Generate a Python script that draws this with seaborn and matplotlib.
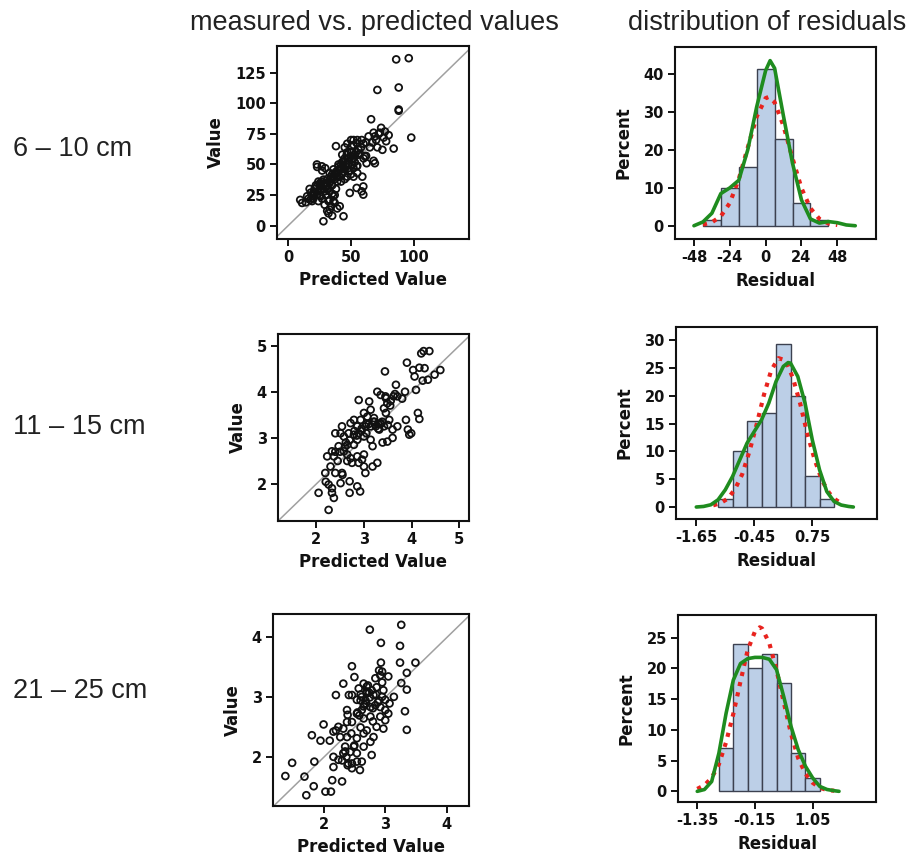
"""
Measured vs. predicted values and residual distributions for three depths.
"""

import matplotlib
matplotlib.use("Agg")
import matplotlib.pyplot as plt
import seaborn as sns

# ---- row labels / titles
depths = ["6 \u2013 10 cm", "11 \u2013 15 cm", "21 \u2013 25 cm"]
col_titles = ["measured vs. predicted values", "distribution of residuals"]

# ---- scatter data (predicted, measured)
pred1 = [86, 96, 88, 71, 88, 88, 66, 98, 84,
         74, 77, 80, 72, 69, 64, 70, 62, 75, 67, 76, 78, 71, 65, 73, 68,
         68, 69, 60, 62,
         55, 50, 47, 52, 45, 38, 46.6, 52, 54.5, 58.5, 50.5, 57, 61, 62.4, 54.5,
         50.5, 46.6, 44, 41, 38.6, 42.6, 48, 52,
         49, 54.5, 59.8, 58.5, 59.8, 59,
         44, 28, 33, 32, 41, 37, 33, 36, 29,
         9.5, 11, 15, 17.5, 20, 22.8, 25.4, 22.8, 26.7, 29.4, 25.4, 30.7, 33, 36,
         33, 28, 30.7,
         30, 32, 28, 26, 24, 20, 18, 35, 37, 40, 42, 44, 46, 48, 43, 40, 36, 34,
         31, 27, 25, 23, 21, 19, 16, 14, 27, 30, 33, 35, 38, 36, 34, 31, 35, 39,
         45, 47, 43, 50, 53, 56, 49, 51, 53, 39, 41, 35, 37, 32, 29, 27, 23, 47,
         50, 52, 55, 55, 42, 45,
         22, 24, 26, 28, 29, 31, 33, 35, 38, 40, 42, 44, 46, 48, 50, 52, 54, 56,
         58, 60, 45, 43, 39, 37, 21, 19, 17, 24, 26]
meas1 = [136, 137, 113, 111, 95, 94, 87, 72, 63,
         80, 77, 74, 75, 73, 73, 70, 68, 62, 68, 72, 69, 64, 64, 76, 76,
         53, 51, 55, 57,
         70, 70, 67, 66, 64, 65, 58, 70, 67.5, 70, 65, 59, 56.6, 51, 48.5,
         54, 51, 48.5, 46, 43, 41.7, 44.4, 47,
         26.7, 30.8, 32, 28, 25.3, 40,
         7.6, 3.5, 13, 10, 15.8, 18.5, 21, 24, 28,
         21, 18.5, 24, 21, 26.7, 32, 35, 50, 48.5, 47, 25, 32, 35, 40,
         43, 37.6, 29.4,
         35, 30, 33, 30, 28, 22, 27, 38, 42, 45, 47, 44, 48, 50, 52, 50, 46, 40,
         38, 36, 32, 25, 30, 20, 22, 19, 22, 25, 28, 26, 30, 20, 16, 12, 8, 14,
         55, 60, 58, 60, 58, 62, 45, 50, 52, 36, 40, 33, 25, 20, 17, 45, 48, 40,
         42, 40, 43, 49, 36, 38,
         33, 36, 34, 30, 34, 33, 36, 42, 44, 48, 50, 52, 50, 55, 57, 55, 60, 58,
         64, 67, 46, 43, 40, 38, 27, 24, 30, 20, 24]

pred2 = [4.25, 4.37, 4.2, 3.9, 4.03, 4.16, 4.27, 4.6, 4.48, 4.06, 4.23, 4.34,
         4.09, 3.86, 3.67, 3.7, 3.44, 3.28, 3.35, 3.46, 3.49, 3.42, 3.46, 3.53,
         3.21, 3.07, 2.89, 3.11, 3.14, 3.0, 2.93, 2.79, 2.72, 2.86, 3.03, 3.14,
         3.25, 3.35, 3.42, 3.32, 3.6, 3.7, 3.88, 3.92, 3.99, 3.95, 4.13, 4.16,
         3.6, 3.49, 3.39, 3.14, 3.0, 2.89, 2.79, 2.68, 2.58, 2.51, 2.4, 2.54,
         2.47, 2.33, 2.23, 2.37, 2.58, 2.65, 2.65, 2.79, 2.86, 2.72, 2.86, 3.0,
         2.96, 2.75, 2.89, 3.0, 3.03, 3.18, 3.28, 3.18, 2.19, 2.4, 2.3, 2.54,
         2.51, 2.26, 2.33, 2.37, 2.05, 2.26, 2.7, 2.7, 2.86, 2.92, 2.33,
         3.3, 3.38, 3.5, 3.56, 3.62, 2.62, 2.95, 3.05, 3.22,
         3.1, 3.2, 3.3, 3.35, 2.95, 2.85, 2.7, 2.6, 2.5, 2.8, 3.05, 3.45, 3.55,
         3.65, 3.8, 2.45, 2.65, 2.55, 2.2, 2.4]
meas2 = [4.88, 4.88, 4.83, 4.63, 4.47, 4.52, 4.51, 4.47, 4.37, 4.33, 4.24, 4.26,
         4.04, 4.0, 4.15, 3.9, 4.44, 4.0, 3.93, 3.86, 3.75, 3.64, 3.54, 3.39,
         3.43, 3.46, 3.82, 3.79, 3.61, 3.54, 3.39, 3.39, 3.32, 3.25, 3.25, 3.25,
         3.25, 3.32, 3.25, 3.18, 3.18, 3.25, 3.39, 3.18, 3.1, 3.07, 3.54, 3.41,
         3.0, 2.92, 2.9, 2.96, 3.03, 3.1, 3.07, 3.1, 3.03, 3.1, 3.1, 3.25,
         2.82, 2.71, 2.6, 2.6, 2.71, 2.64, 2.85, 2.85, 2.96, 2.56, 2.6, 2.64,
         2.53, 2.46, 2.46, 2.38, 2.24, 2.38, 2.46, 2.82, 2.24, 2.24, 2.38, 2.24,
         2.02, 1.99, 1.91, 1.7, 1.81, 1.44, 2.06, 1.81, 1.95, 1.84, 1.81,
         3.3, 3.35, 3.28, 3.8, 3.9, 2.9, 3.15, 3.3, 3.35,
         3.3, 3.35, 3.2, 3.3, 3.2, 3.05, 2.95, 2.8, 2.7, 3.15, 3.1, 3.9, 3.7,
         3.95, 3.85, 2.5, 2.5, 2.2, 2.05, 2.7]

pred3 = [3.26, 2.75, 2.93, 3.24, 2.93, 3.24, 3.49, 2.46, 2.5, 2.92, 2.95, 3.35,
         3.26, 2.84, 2.32, 2.65, 2.57, 2.7, 2.78, 2.86, 2.97, 3.35, 3.14, 3.07,
         3.0, 2.95, 2.81, 2.7, 2.62, 2.54, 2.46, 2.41, 2.2, 2.69, 2.76, 2.84,
         2.92, 3.05, 3.0, 2.62, 2.54, 2.38, 2.39, 2.46, 2.38, 2.65, 2.76, 2.92,
         3.0, 2.86, 2.97, 3.32, 3.35, 2.32, 2.24, 2.16, 2.65, 2.81, 2.76, 2.54,
         2.38, 2.27, 1.81, 1.95, 2.1, 2.78, 2.65, 2.49, 2.35, 2.32, 2.43, 2.54,
         2.16, 2.24, 2.37, 2.46, 2.54, 2.62, 2.39, 2.46, 2.59, 2.16, 1.49, 1.85,
         1.38, 1.69, 1.84, 2.14, 2.3, 2.03, 2.12, 1.72,
         2.6, 2.68, 2.72, 2.8, 2.88, 2.66, 2.74, 2.58,
         2.6, 2.7, 2.75, 2.85, 2.9, 2.65, 2.55, 2.45, 2.5, 2.4, 2.3, 2.35, 2.95,
         3.05, 2.9, 2.8, 2.7, 2.6, 2.2, 2.0]
meas3 = [4.21, 4.13, 3.91, 3.86, 3.58, 3.58, 3.58, 3.52, 3.34, 3.37, 3.43, 3.41,
         3.24, 3.32, 3.23, 3.23, 3.15, 3.18, 3.12, 3.17, 3.12, 3.13, 3.01, 2.9,
         2.96, 3.01, 3.04, 3.07, 3.01, 2.96, 3.04, 3.04, 3.04, 2.9, 2.84, 2.87,
         2.84, 2.73, 2.79, 2.79, 2.73, 2.79, 2.71, 2.59, 2.59, 2.65, 2.68, 2.68,
         2.62, 2.51, 2.48, 2.77, 2.46, 2.48, 2.51, 2.43, 2.4, 2.34, 2.26, 2.32,
         2.34, 2.34, 2.37, 2.28, 2.28, 2.04, 2.18, 2.18, 2.18, 2.07, 2.09, 2.07,
         2.01, 1.96, 2.01, 1.9, 1.93, 1.93, 1.87, 1.82, 1.79, 1.84, 1.91, 1.93,
         1.69, 1.68, 1.52, 1.62, 1.6, 1.43, 1.43, 1.37,
         3.05, 2.95, 3.2, 2.82, 2.92, 2.88, 3.08, 2.7,
         2.95, 3.1, 3.0, 3.05, 2.95, 2.85, 2.75, 2.4, 2.2, 1.9, 1.95, 2.1, 3.25,
         3.35, 3.45, 2.6, 2.45, 2.5, 2.45, 2.55]

# ---- residual histograms (bin edges, percent per bin)
edges1 = [-42, -30, -18, -6, 6, 18, 30, 42]
pct1 = [1.5, 10, 15.5, 41.5, 23, 6, 1.5]
edges2 = [-1.2, -0.9, -0.6, -0.3, 0, 0.3, 0.6, 0.9, 1.2]
pct2 = [1.5, 10, 15.5, 17, 29.3, 20, 5.5, 1.5]
edges3 = [-0.9, -0.6, -0.3, 0, 0.3, 0.6, 0.9, 1.2]
pct3 = [7, 24, 20, 22.4, 17.6, 6.2, 2.2]

# ---- kernel (green) and normal (red) curves
kern1_x = [-48, -42, -36, -30, -24, -18, -12, -6, 0, 3, 6, 12, 18, 24, 30, 36, 42, 48, 54, 60]
kern1_y = [0, 1.0, 3.3, 8.5, 10, 12, 20, 31.4, 41, 43.6, 41.6, 28.8, 16.5, 6.8, 1.8, 0.7, 1.1, 0.8, 0.2, 0]
norm1_x = [-42, -36, -30, -24, -18, -12, -6, 0, 2, 6, 12, 18, 24, 30, 36, 42, 48]
norm1_y = [0.3, 0.9, 2.5, 6, 12.3, 20.6, 28.8, 33.7, 34, 32.6, 26.3, 17.8, 9.9, 4.6, 1.8, 0.6, 0.2]

kern2_x = [-1.65, -1.5, -1.35, -1.2, -1.05, -0.9, -0.75, -0.6, -0.45, -0.3, -0.15, 0, 0.15,
           0.25, 0.3, 0.45, 0.6, 0.75, 0.9, 1.05, 1.2, 1.35, 1.5, 1.6]
kern2_y = [0, 0.1, 0.4, 1.3, 3.1, 5.5, 8.5, 11.5, 13.6, 15.7, 18.7, 22.6, 25.3,
           26, 25.9, 23.5, 18.7, 12.1, 6.7, 2.8, 1.0, 0.35, 0.1, 0]
norm2_x = [-1.3, -1.15, -1.0, -0.85, -0.7, -0.55, -0.4, -0.25, -0.1, 0.05, 0.2, 0.35,
           0.5, 0.65, 0.8, 0.95, 1.1, 1.25, 1.35]
norm2_y = [0.3, 0.7, 1.5, 3.2, 5.9, 10, 14.9, 20.2, 24.6, 26.8, 26.4, 23.2,
           18.6, 13.1, 8.5, 4.8, 2.5, 1.2, 0.7]

kern3_x = [-1.35, -1.2, -1.05, -0.9, -0.75, -0.6, -0.45, -0.3, -0.15, 0, 0.15, 0.3,
           0.45, 0.6, 0.75, 0.9, 1.05, 1.2, 1.35, 1.5, 1.6]
kern3_y = [0, 0.3, 1.6, 6.2, 12.7, 18.1, 20.8, 21.6, 21.8, 21.8, 21.5, 19.8,
           15.4, 10.6, 6.8, 4.1, 2.2, 0.8, 0.3, 0.1, 0]
norm3_x = [-1.35, -1.2, -1.05, -0.9, -0.75, -0.6, -0.45, -0.3, -0.15, -0.05, 0, 0.15,
           0.3, 0.45, 0.6, 0.75, 0.9, 1.05, 1.2, 1.35, 1.5]
norm3_y = [0.4, 1.0, 2.2, 4.4, 8, 12.6, 17.9, 23, 26, 26.7, 26.5, 24.1,
           19.7, 14.5, 9.4, 5.4, 2.9, 1.4, 0.6, 0.2, 0.1]

# ---- ticks
sc_xticks = [[0, 50, 100], [2, 3, 4, 5], [2, 3, 4]]
sc_yticks = [[0, 25, 50, 75, 100, 125], [2, 3, 4, 5], [2, 3, 4]]
hist_xticks = [[-48, -24, 0, 24, 48], [-1.65, -0.45, 0.75], [-1.35, -0.15, 1.05]]
hist_yticks = [[0, 10, 20, 30, 40], [0, 5, 10, 15, 20, 25, 30], [0, 5, 10, 15, 20, 25]]

sns.set_style("white")
plt.rcParams["font.family"] = ["DejaVu Sans"]
plt.rcParams["axes.unicode_minus"] = False

BAR_FACE = "#bccfe7"
BAR_EDGE = "#3c4150"
GREEN = "#1f8c1f"
RED = "#e8231e"


def style_axes(ax, xticks, yticks):
    for sp in ax.spines.values():
        sp.set_visible(True)
        sp.set_color("#111111")
        sp.set_linewidth(1.5)
    ax.set_xticks(xticks, labels=[str(t) for t in xticks])
    ax.set_yticks(yticks, labels=[str(t) for t in yticks])
    ax.tick_params(direction="out", length=5, width=1.4, color="#111111",
                   labelsize=10.5, pad=3, bottom=True, left=True, labelcolor="#111111")
    for lbl in ax.get_xticklabels() + ax.get_yticklabels():
        lbl.set_fontweight("bold")
    ax.grid(False)


def scatter_panel(ax, pred, meas, xlim, ylim, xticks, yticks):
    ax.axline((0, 0), (1, 1), color="#a0a0a0", lw=1.1, zorder=0)
    sns.scatterplot(x=pred, y=meas, ax=ax, marker="o", s=24,
                    facecolor="none", edgecolor="#111111", linewidth=1.3, zorder=2)
    ax.set_xlim(xlim)
    ax.set_ylim(ylim)
    style_axes(ax, xticks, yticks)
    ax.set_xlabel("Predicted Value", fontsize=12, fontweight="bold", labelpad=4,
                  color="#111111")
    ax.set_ylabel("Value", fontsize=12, fontweight="bold", labelpad=7, color="#111111")


def hist_panel(ax, edges, pct, kx, ky, nx, ny, xlim, ylim, xticks, yticks):
    mids = [(a + b) / 2 for a, b in zip(edges[:-1], edges[1:])]
    sns.histplot(x=mids, weights=pct, bins=edges, ax=ax, stat="count",
                 color=BAR_FACE, edgecolor=BAR_EDGE, linewidth=1.0, alpha=1)
    sns.lineplot(x=nx, y=ny, ax=ax, color=RED, linewidth=3.0,
                 linestyle=(0, (1, 1.5)), sort=False, zorder=3)
    sns.lineplot(x=kx, y=ky, ax=ax, color=GREEN, linewidth=2.6, sort=False, zorder=4)
    ax.set_xlim(xlim)
    ax.set_ylim(ylim)
    style_axes(ax, xticks, yticks)
    ax.set_xlabel("Residual", fontsize=12, fontweight="bold", labelpad=5, color="#111111")
    ax.set_ylabel("Percent", fontsize=12, fontweight="bold", labelpad=8, color="#111111")


fig = plt.figure(figsize=(9.23, 8.64), dpi=100)

sc_pos = [[0.3001, 0.7234, 0.2080, 0.2234],
          [0.3012, 0.3970, 0.2069, 0.2164],
          [0.2958, 0.0671, 0.2124, 0.2222]]
hi_pos = [[0.7313, 0.7234, 0.2178, 0.2222],
          [0.7324, 0.3993, 0.2178, 0.2222],
          [0.7346, 0.0718, 0.2145, 0.2164]]

sc_lims = [((-9, 144), (-11, 147)), ((1.2, 5.2), (1.2, 5.25)), ((1.18, 4.36), (1.19, 4.39))]
hi_lims = [((-60.7, 73.9), (-3.5, 47.2)), ((-2.07, 2.09), (-2.16, 32.4)),
           ((-1.75, 2.37), (-1.73, 28.7))]

sc_data = [(pred1, meas1), (pred2, meas2), (pred3, meas3)]
hi_data = [(edges1, pct1, kern1_x, kern1_y, norm1_x, norm1_y),
           (edges2, pct2, kern2_x, kern2_y, norm2_x, norm2_y),
           (edges3, pct3, kern3_x, kern3_y, norm3_x, norm3_y)]

for i in range(3):
    ax = fig.add_axes(sc_pos[i])
    scatter_panel(ax, sc_data[i][0], sc_data[i][1], sc_lims[i][0], sc_lims[i][1],
                  sc_xticks[i], sc_yticks[i])
    ax2 = fig.add_axes(hi_pos[i])
    e, p, kx, ky, nx, ny = hi_data[i]
    hist_panel(ax2, e, p, kx, ky, nx, ny, hi_lims[i][0], hi_lims[i][1],
               hist_xticks[i], hist_yticks[i])

# titles and row labels
fig.text(374 / 923, 1 - 30 / 864, col_titles[0], ha="center", va="baseline",
         fontsize=19.5, family="Liberation Sans", color="#222222")
fig.text(767 / 923, 1 - 30 / 864, col_titles[1], ha="center", va="baseline",
         fontsize=19.5, family="Liberation Sans", color="#222222")
for y, lab in zip([156, 434, 698], depths):
    fig.text(13 / 923, 1 - y / 864, lab, ha="left", va="baseline",
             fontsize=19.5, family="Liberation Sans", color="#222222")

fig.savefig("out.png", dpi=100)
